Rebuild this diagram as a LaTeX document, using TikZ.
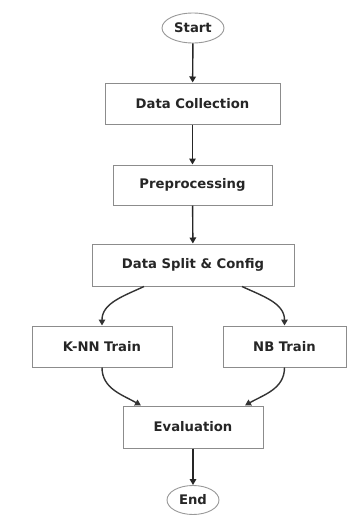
\documentclass[tikz,border=0pt]{standalone}
\usepackage{fontspec}
\setmainfont{DejaVu Sans}
\usetikzlibrary{arrows.meta,shapes.geometric}

\tikzset{
  stepbox/.style={draw=black!45, line width=1pt, fill=white, minimum height=41pt,
    font=\fontsize{13.2}{15}\selectfont\bfseries, text=black!85},
  terminal/.style={ellipse, draw=black!40, line width=0.9pt, fill=white, inner sep=0pt,
    font=\fontsize{13.2}{15}\selectfont\bfseries, text=black!85},
}

\begin{document}
\begin{tikzpicture}[x=1pt, y=-1pt, >={Triangle[length=6pt,width=6.5pt]}, line width=1.4pt]
        \useasboundingbox[fill=white] (0,0) rectangle (363,515);

        \node (start) at (193,28) [terminal, minimum width=62pt, minimum height=30pt] {Start};
        \node (collect) at (192.5,103.5) [stepbox, minimum width=175pt] {Data Collection};
        \node (prep) at (192.5,185) [stepbox, minimum width=159pt, minimum height=40pt] {Preprocessing};
        \node (split) at (193,265) [stepbox, minimum width=202pt, minimum height=42pt] {Data Split \& Config};
        \node (knn) at (102,346.5) [stepbox, minimum width=140pt] {K-NN Train};
        \node (nb) at (284.5,346.5) [stepbox, minimum width=123pt] {NB Train};
        \node (eval) at (193,427) [stepbox, minimum width=140pt, minimum height=42pt] {Evaluation};
        \node (end) at (193,500) [terminal, minimum width=52pt, minimum height=29pt] {End};

        % main line
        \draw[->, black!85] (start) -- (collect);
        \draw[->, black!85] (collect) -- (prep);
        \draw[->, black!85] (prep) -- (split);

        % the two branches
        \draw[->, black!80] ([xshift=-49pt]split.south) to[out=-155, in=90] (knn.north);
        \draw[->, black!80] ([xshift=49pt]split.south) to[out=-25, in=90] (nb.north);
        \draw[->, black!80] (knn.south) to[out=-90, in=150] ([xshift=-52pt]eval.north);
        \draw[->, black!80] (nb.south) to[out=-90, in=30] ([xshift=52pt]eval.north);

        \draw[->, black!85] (eval) -- (end);
    \end{tikzpicture}
\end{document}
